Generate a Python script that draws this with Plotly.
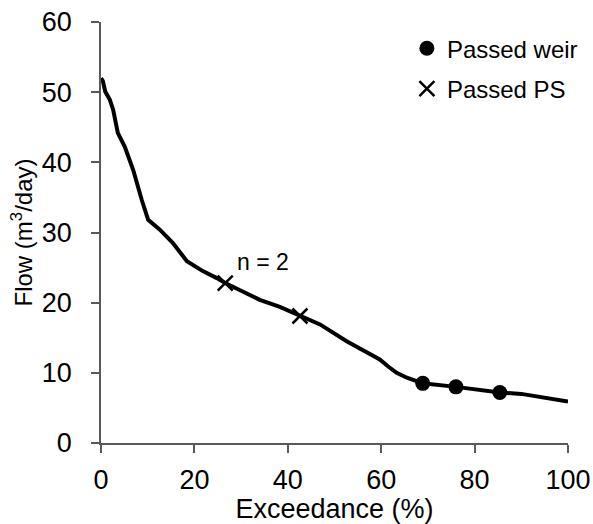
import plotly.graph_objects as go

# Flow duration curve
curve_x = [0.0, 0.4, 0.9, 1.9, 2.6, 3.6, 5.1, 6.9, 8.7, 10.1, 12.6, 15.4, 18.4, 21.8, 24.8,
           26.6, 30.0, 34.0, 38.3, 42.6, 46.9, 52.6, 59.7, 61.5, 63.3, 65.5, 68.9, 76.0,
           80.0, 85.4, 90.0, 95.0, 100.0]
curve_y = [52.0, 51.6, 50.1, 48.9, 47.5, 44.2, 42.2, 38.9, 34.7, 31.8, 30.4, 28.5, 25.9, 24.5, 23.5,
           22.8, 21.7, 20.4, 19.4, 18.1, 16.9, 14.5, 11.9, 10.9, 10.0, 9.3, 8.5, 8.0,
           7.7, 7.2, 7.0, 6.4, 5.9]

weir_x = [68.9, 76.0, 85.4]
weir_y = [8.5, 8.0, 7.2]

ps_x = [26.6, 42.6]
ps_y = [22.8, 18.1]

x_ticks = [0, 20, 40, 60, 80, 100]
y_ticks = [0, 10, 20, 30, 40, 50, 60]

FONT = "Liberation Sans, Arial, sans-serif"
AX = "#595959"

fig = go.Figure()
fig.add_trace(go.Scatter(x=curve_x, y=curve_y, mode="lines",
                         line=dict(color="black", width=4), showlegend=False))
fig.add_trace(go.Scatter(x=weir_x, y=weir_y, mode="markers", name="Passed weir",
                         legendgroup="a",
                         marker=dict(symbol="circle", size=15, color="black")))
fig.add_trace(go.Scatter(x=ps_x, y=ps_y, mode="markers", name="Passed PS",
                         legendgroup="b",
                         marker=dict(symbol="x-thin", size=15, color="black",
                                     line=dict(width=2.5, color="black"))))

fig.add_annotation(x=28.7, y=25.8, text="n = 2", showarrow=False, xanchor="left",
                   yanchor="middle", font=dict(family=FONT, size=23, color="black"))

fig.update_layout(
    width=593, height=524,
    margin=dict(l=101, r=25, t=22, b=81, autoexpand=False),
    paper_bgcolor="white", plot_bgcolor="white",
    font=dict(family=FONT, color="black"),
    legend=dict(x=0.655, y=0.99, xanchor="left", yanchor="top",
                font=dict(family=FONT, size=24, color="black"),
                tracegroupgap=6, traceorder="grouped", itemwidth=30,
                bgcolor="rgba(0,0,0,0)"),
    xaxis=dict(range=[0, 100], tickvals=x_ticks, showgrid=False, zeroline=False,
               showline=True, linecolor=AX, linewidth=1.5, automargin=False,
               ticks="outside", ticklen=8, tickcolor=AX, tickwidth=1.5,
               ticklabelstandoff=4,
               tickfont=dict(family=FONT, size=27, color="black"),
               title=dict(text="Exceedance (%)", font=dict(family=FONT, size=27, color="black"),
                          standoff=0)),
    yaxis=dict(range=[0, 60], tickvals=y_ticks, showgrid=False, zeroline=False,
               showline=True, linecolor=AX, linewidth=1.5, automargin=False,
               ticks="outside", ticklen=8, tickcolor=AX, tickwidth=1.5,
               ticklabelstandoff=14,
               tickfont=dict(family=FONT, size=27, color="black"),
               title=dict(text="Flow (m<sup>3</sup>/day)", font=dict(family=FONT, size=24, color="black"),
                          standoff=2)),
)

fig.write_html("out.html")
